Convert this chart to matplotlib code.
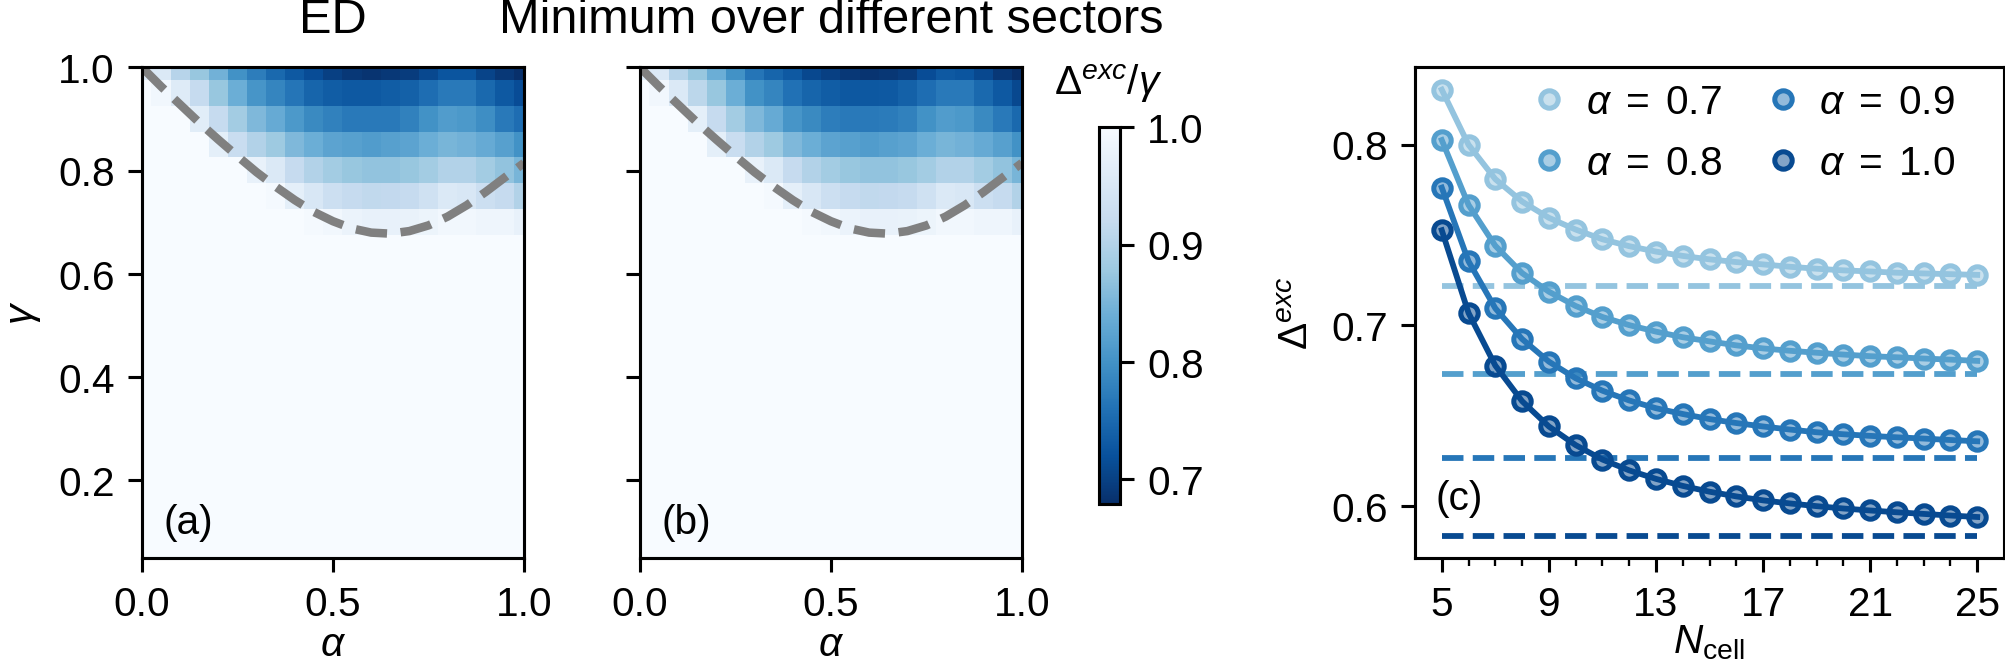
import numpy as np
import matplotlib.pyplot as plt

plt.rcParams['font.family'] = ['Liberation Sans', 'DejaVu Sans']
plt.rcParams['mathtext.fontset'] = 'custom'
plt.rcParams['mathtext.rm'] = 'Liberation Sans'
plt.rcParams['mathtext.it'] = 'Liberation Sans:italic'
plt.rcParams['font.size'] = 10.5

# heatmap grid (cell centres)
alphas = [0.0, 0.05, 0.1, 0.15, 0.2, 0.25, 0.3, 0.35, 0.4, 0.45, 0.5,
          0.55, 0.6, 0.65, 0.7, 0.75, 0.8, 0.85, 0.9, 0.95, 1.0]
gammas = [1.0, 0.95, 0.9, 0.85, 0.8, 0.75, 0.7, 0.65, 0.6, 0.55, 0.5,
          0.45, 0.4, 0.35, 0.3, 0.25, 0.2, 0.15, 0.1, 0.05]

# Delta^exc / gamma, rows from gamma = 1.0 downwards (ED)
gap_ed = [
    [0.96, 0.955, 0.905, 0.875, 0.845, 0.80, 0.775, 0.75, 0.73, 0.715, 0.70,
     0.69, 0.685, 0.69, 0.695, 0.71, 0.725, 0.725, 0.705, 0.69, 0.68],
    [1.0, 0.99, 0.96, 0.92, 0.875, 0.84, 0.805, 0.785, 0.765, 0.745, 0.735,
     0.73, 0.73, 0.735, 0.74, 0.755, 0.77, 0.77, 0.75, 0.73, 0.715],
    [1.0, 1.0, 1.0, 0.965, 0.92, 0.885, 0.855, 0.835, 0.81, 0.79, 0.78,
     0.77, 0.77, 0.77, 0.78, 0.80, 0.815, 0.81, 0.795, 0.77, 0.755],
    [1.0, 1.0, 1.0, 1.0, 0.97, 0.925, 0.90, 0.88, 0.855, 0.84, 0.825,
     0.82, 0.815, 0.82, 0.825, 0.84, 0.85, 0.845, 0.835, 0.82, 0.80],
    [1.0, 1.0, 1.0, 1.0, 1.0, 1.0, 0.975, 0.955, 0.92, 0.90, 0.885,
     0.875, 0.87, 0.87, 0.875, 0.885, 0.90, 0.90, 0.885, 0.87, 0.85],
    [1.0, 1.0, 1.0, 1.0, 1.0, 1.0, 1.0, 0.995, 0.97, 0.95, 0.93,
     0.92, 0.915, 0.917, 0.92, 0.935, 0.955, 0.95, 0.93, 0.92, 0.90],
    [1.0, 1.0, 1.0, 1.0, 1.0, 1.0, 1.0, 1.0, 1.0, 0.995, 0.99,
     0.98, 0.975, 0.975, 0.978, 0.983, 0.99, 0.99, 0.985, 0.985, 0.975],
] + [[1.0] * 21] * 13

# minimum over different sectors
gap_sec = [
    [0.96, 0.955, 0.905, 0.875, 0.84, 0.80, 0.765, 0.745, 0.73, 0.71, 0.70,
     0.69, 0.685, 0.688, 0.695, 0.715, 0.73, 0.725, 0.71, 0.69, 0.68],
    [1.0, 0.99, 0.955, 0.91, 0.875, 0.84, 0.80, 0.785, 0.76, 0.745, 0.735,
     0.728, 0.728, 0.73, 0.74, 0.755, 0.77, 0.77, 0.75, 0.73, 0.71],
    [1.0, 1.0, 1.0, 0.97, 0.92, 0.885, 0.855, 0.835, 0.805, 0.79, 0.775,
     0.77, 0.77, 0.772, 0.78, 0.80, 0.815, 0.81, 0.79, 0.77, 0.75],
    [1.0, 1.0, 1.0, 1.0, 0.97, 0.925, 0.90, 0.88, 0.855, 0.84, 0.825,
     0.82, 0.815, 0.82, 0.825, 0.84, 0.85, 0.845, 0.835, 0.82, 0.80],
    [1.0, 1.0, 1.0, 1.0, 1.0, 1.0, 0.975, 0.955, 0.92, 0.90, 0.885,
     0.875, 0.87, 0.87, 0.875, 0.885, 0.90, 0.90, 0.885, 0.87, 0.85],
    [1.0, 1.0, 1.0, 1.0, 1.0, 1.0, 1.0, 0.995, 0.97, 0.95, 0.93,
     0.92, 0.915, 0.917, 0.92, 0.935, 0.955, 0.95, 0.93, 0.92, 0.90],
    [1.0, 1.0, 1.0, 1.0, 1.0, 1.0, 1.0, 1.0, 1.0, 0.995, 0.99,
     0.98, 0.975, 0.975, 0.978, 0.983, 0.99, 0.99, 0.985, 0.985, 0.975],
] + [[1.0] * 21] * 13

# dashed boundary curve gamma_c(alpha)
alpha_c = alphas
gamma_c = [1.0, 0.963, 0.928, 0.893, 0.860, 0.828, 0.797, 0.769, 0.743, 0.720, 0.702,
           0.688, 0.680, 0.678, 0.683, 0.694, 0.711, 0.733, 0.759, 0.787, 0.815]

# panel (c)
n_cell = list(range(5, 26))
labels_c = ['0.7', '0.8', '0.9', '1.0']
gap_07 = [0.8305, 0.800, 0.781, 0.7686, 0.7596, 0.7531, 0.7477, 0.7439, 0.7409, 0.7385, 0.7366,
          0.7351, 0.7338, 0.7325, 0.7314, 0.7305, 0.7299, 0.7292, 0.7288, 0.7284, 0.7280]
gap_08 = [0.8026, 0.7667, 0.7441, 0.7290, 0.7187, 0.7108, 0.7047, 0.7002, 0.6966, 0.6935, 0.6912,
          0.6890, 0.6873, 0.6860, 0.6849, 0.6839, 0.6830, 0.6824, 0.6817, 0.6811, 0.6804]
gap_09 = [0.7763, 0.7355, 0.7095, 0.6925, 0.6800, 0.6708, 0.6639, 0.6585, 0.6542, 0.6510, 0.6482,
          0.6460, 0.6441, 0.6424, 0.6409, 0.6398, 0.6389, 0.6381, 0.6374, 0.6366, 0.6359]
gap_10 = [0.7527, 0.7069, 0.6778, 0.6581, 0.6441, 0.6338, 0.6258, 0.6198, 0.6151, 0.6112, 0.6080,
          0.6054, 0.6032, 0.6015, 0.6000, 0.5987, 0.5976, 0.5966, 0.5957, 0.5948, 0.5940]
gap_inf = [0.7217, 0.6729, 0.6269, 0.5837]

vmin, vmax = 0.679, 1.0
fig = plt.figure(figsize=(7.2, 2.4))
W, H = 2006, 668
def box(x0, y0, x1, y1):
    return [x0 / W, 1 - y1 / H, (x1 - x0) / W, (y1 - y0) / H]

ax_a = fig.add_axes(box(142, 68, 524, 558))
ax_b = fig.add_axes(box(640, 68, 1022, 558))
cax = fig.add_axes(box(1099, 128, 1120, 504))
ax_c = fig.add_axes(box(1415, 68, 2004, 558))

d = 0.025
ext = [alphas[0] - d, alphas[-1] + d, gammas[-1] - d, gammas[0] + d]
for ax, data, title, tag in [(ax_a, gap_ed, 'ED', '(a)'),
                              (ax_b, gap_sec, 'Minimum over different sectors', '(b)')]:
    im = ax.imshow(np.array(data), extent=ext, origin='upper', aspect='auto',
                   cmap='Blues_r', vmin=vmin, vmax=vmax, interpolation='nearest')
    ax.plot(alpha_c, gamma_c, '--', color='gray', lw=2.2)
    ax.set_xlim(0, 1)
    ax.set_ylim(0.05, 1.0)
    ax.set_xticks([0, 0.5, 1.0])
    ax.set_yticks([0.2, 0.4, 0.6, 0.8, 1.0])
    ax.set_xlabel(r'$\alpha$', labelpad=0.5)
    ax.set_title(title, pad=9)
    ax.text(0.055, 0.033, tag, transform=ax.transAxes, va='bottom')
ax_a.set_ylabel(r'$\gamma$')
ax_b.set_yticklabels([])

cb = fig.colorbar(im, cax=cax, ticks=[0.7, 0.8, 0.9, 1.0])
fig.text(1108 / W, 1 - 95 / H, r'$\Delta^{exc}/\gamma$', ha='center', va='baseline')

colors = plt.cm.Blues([0.4, 0.57, 0.73, 0.9])
for vals, lab, c, g in zip([gap_07, gap_08, gap_09, gap_10], labels_c, colors, gap_inf):
    ax_c.plot(n_cell, vals, '-', color=c, lw=1.5)
    ax_c.plot(n_cell, vals, 'o', ms=4.5, mew=1.3, mec=c,
              mfc=(c[0], c[1], c[2], 0.5), label=r'$\alpha\;=\;$' + lab)
    ax_c.plot([n_cell[0], n_cell[-1]], [g, g], '--', color=c, lw=1.5)
ax_c.set_xticks([5, 9, 13, 17, 21, 25])
ax_c.set_xticks(n_cell, minor=True)
ax_c.tick_params(which='minor', length=2)
ax_c.set_yticks([0.6, 0.7, 0.8])
ax_c.set_xlabel(r'$N_{\mathrm{cell}}$', labelpad=0)
ax_c.set_ylabel(r'$\Delta^{exc}$')
ax_c.text(0.034, 0.082, '(c)', transform=ax_c.transAxes, va='bottom')
ax_c.legend(ncol=2, loc='upper right', bbox_to_anchor=(0.945, 1.0), frameon=False,
            handlelength=1.0, handletextpad=0.4, columnspacing=1.0,
            borderaxespad=0, labelspacing=0.55)

fig.savefig('out.png', dpi=W / 7.2)
